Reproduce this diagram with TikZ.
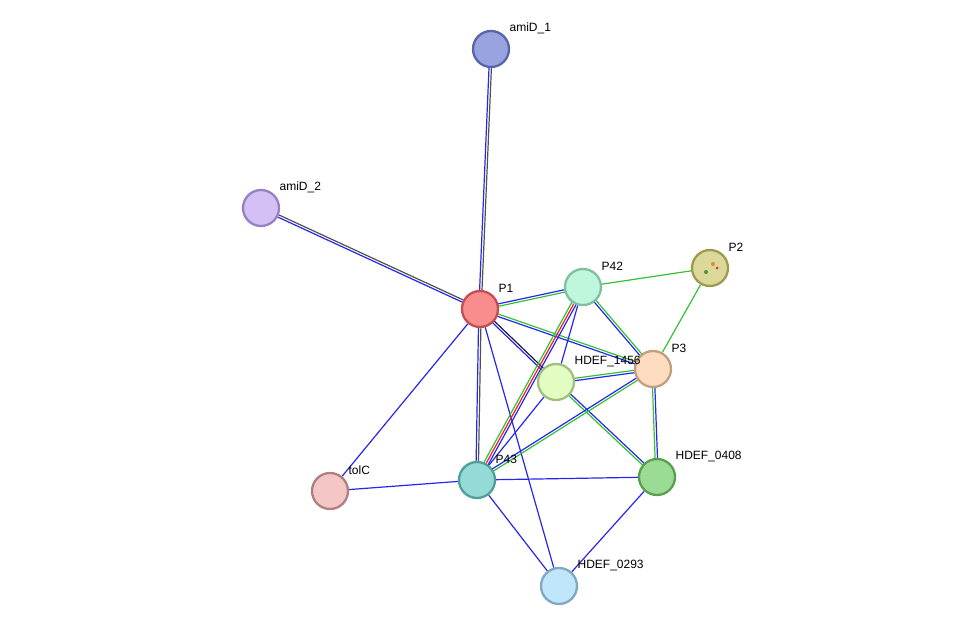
\documentclass[tikz,border=0pt]{standalone}
\usepackage{fontspec}
\setmainfont{Liberation Sans}
\usetikzlibrary{calc,backgrounds}
\definecolor{eb}{HTML}{2626F0}
\definecolor{eg}{HTML}{33C233}
\definecolor{ek}{HTML}{505050}
\definecolor{er}{HTML}{F02020}
\definecolor{en}{HTML}{1A1A40}
\newcommand{\eone}[3]{\draw[#3] (#1) -- (#2);}
\newcommand{\etwo}[4]{\draw[#3] ($(#1)!1.2pt!90:(#2)$) -- ($(#2)!1.2pt!-90:(#1)$);
  \draw[#4] ($(#1)!-1.2pt!90:(#2)$) -- ($(#2)!-1.2pt!-90:(#1)$);}
\newcommand{\ethree}[5]{\draw[#3] ($(#1)!2.4pt!90:(#2)$) -- ($(#2)!2.4pt!-90:(#1)$);
  \draw[#4] (#1) -- (#2);
  \draw[#5] ($(#1)!-2.4pt!90:(#2)$) -- ($(#2)!-2.4pt!-90:(#1)$);}
\begin{document}
\begin{tikzpicture}[x=1pt,y=-1pt,
  prot/.style={circle,minimum size=36pt,inner sep=0pt,line width=2.3pt},
  lab/.style={anchor=west,font=\fontsize{12}{14}\selectfont,inner sep=0pt},
  every path/.append style={line width=1.2pt}]
\useasboundingbox (0,0) rectangle (975,632);
\node[prot,fill={rgb,255:red,153;green,163;blue,224},draw={rgb,255:red,90;green,100;blue,168}] (amiD1) at (491,49) {};
\node[prot,fill={rgb,255:red,212;green,191;blue,247},draw={rgb,255:red,150;green,130;blue,195}] (amiD2) at (261,208) {};
\node[prot,fill={rgb,255:red,249;green,140;blue,140},draw={rgb,255:red,195;green,80;blue,80}] (P1) at (480,309) {};
\node[prot,fill={rgb,255:red,191;green,247;blue,220},draw={rgb,255:red,128;green,192;blue,160}] (P42) at (583,287) {};
\node[prot,fill={rgb,255:red,220;green,216;blue,154},draw={rgb,255:red,160;green,154;blue,80}] (P2) at (710,268) {};
\node[prot,fill={rgb,255:red,253;green,220;blue,191},draw={rgb,255:red,192;green,160;blue,128}] (P3) at (653,369) {};
\node[prot,fill={rgb,255:red,226;green,252;blue,193},draw={rgb,255:red,160;green,192;blue,128}] (H1456) at (556,382) {};
\node[prot,fill={rgb,255:red,148;green,218;blue,214},draw={rgb,255:red,80;green,160;blue,154}] (P43) at (477,480) {};
\node[prot,fill={rgb,255:red,154;green,220;blue,148},draw={rgb,255:red,88;green,160;blue,80}] (H0408) at (657,477) {};
\node[prot,fill={rgb,255:red,245;green,198;blue,198},draw={rgb,255:red,176;green,128;blue,128}] (tolC) at (330,491) {};
\node[prot,fill={rgb,255:red,191;green,230;blue,251},draw={rgb,255:red,128;green,168;blue,192}] (H0293) at (559,586) {};
\node[circle,fill={rgb,255:red,60;green,150;blue,60},inner sep=0pt,minimum size=4pt] (P2a) at (706,272) {};
\node[circle,fill={rgb,255:red,220;green,140;blue,40},inner sep=0pt,minimum size=4pt] (P2b) at (713,264) {};
\node[circle,fill={rgb,255:red,200;green,60;blue,40},inner sep=0pt,minimum size=3pt] (P2c) at (717,268) {};
\begin{scope}[on background layer]
\etwo{P1}{amiD1}{eb}{ek}
\etwo{P1}{amiD2}{eb}{ek}
\etwo{P1}{P42}{eb}{eg}
\etwo{P1}{P3}{eg}{eb}
\etwo{P1}{H1456}{en}{eb}
\etwo{P1}{P43}{ek}{eb}
\eone{P1}{tolC}{eb}
\eone{P1}{H0293}{eb}
\eone{P42}{P2}{eg}
\ethree{P42}{P43}{eb}{er}{eg}
\eone{P42}{H1456}{eb}
\etwo{P42}{P3}{eg}{eb}
\eone{P2}{P3}{eg}
\etwo{H1456}{P3}{eg}{eb}
\etwo{H1456}{H0408}{eb}{eg}
\eone{H1456}{P43}{eb}
\etwo{P3}{P43}{eg}{eb}
\etwo{P3}{H0408}{eb}{eg}
\eone{P43}{H0408}{eb}
\eone{P43}{tolC}{eb}
\eone{P43}{H0293}{eb}
\eone{H0408}{H0293}{eb}
\end{scope}
\node[lab] at (509,28) {amiD\_1};
\node[lab] at (279,187) {amiD\_2};
\node[lab] at (498,288) {P1};
\node[lab] at (601,266) {P42};
\node[lab] at (728,247) {P2};
\node[lab] at (671,348) {P3};
\node[lab] at (574,361) {HDEF\_1456};
\node[lab] at (495,459) {P43};
\node[lab] at (675,456) {HDEF\_0408};
\node[lab] at (348,470) {tolC};
\node[lab] at (577,565) {HDEF\_0293};
\end{tikzpicture}
\end{document}
